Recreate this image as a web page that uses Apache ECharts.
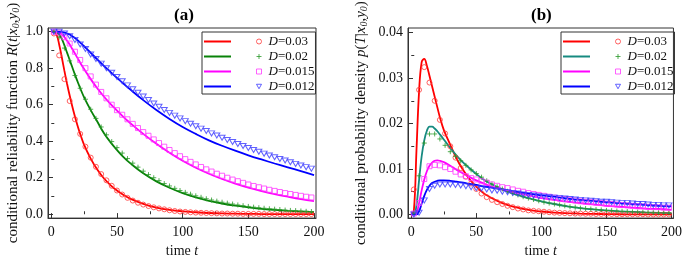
<!DOCTYPE html>
<html>
<head>
<meta charset="utf-8">
<script src="https://cdn.jsdelivr.net/npm/echarts@6/dist/echarts.min.js"></script>
<style>
  html, body { margin: 0; padding: 0; background: #fff; }
  #chart { width: 685px; height: 263px; }
</style>
</head>
<body>
<div id="chart"></div>
<script>
// time grid of the theory curves (both panels)
var tLine = [0, 2, 4, 6, 8, 10, 12, 14, 16, 18, 20, 22, 25, 30, 35, 40, 45, 50, 55, 60,
  70, 80, 90, 100, 110, 120, 130, 140, 150, 160, 170, 180, 190, 200];
// time grid of the simulation markers
var tMark = [2, 6, 10, 14, 18, 22, 26, 30, 34, 38, 42, 46, 50, 54, 58, 62, 66, 70, 74, 78,
  82, 86, 90, 94, 98, 102, 106, 110, 114, 118, 122, 126, 130, 134, 138, 142, 146, 150, 154, 158,
  162, 166, 170, 174, 178, 182, 186, 190, 194, 198];

var noiseLevels = ["0.03", "0.02", "0.015", "0.012"];

// (a) reliability function, theory
var redLineA = [1, 1, 0.985, 0.93, 0.86, 0.785, 0.715, 0.65, 0.59, 0.535, 0.485, 0.44, 0.38, 0.305, 0.245, 0.197, 0.16, 0.13, 0.106, 0.086,
  0.057, 0.037, 0.024, 0.016, 0.011, 0.007, 0.0045, 0.003, 0.002, 0.0013, 0.0009, 0.0006, 0.0004, 0.0003];
var greenLineA = [1, 1, 0.997, 0.985, 0.96, 0.925, 0.885, 0.845, 0.805, 0.765, 0.727, 0.69, 0.64, 0.57, 0.508, 0.445, 0.395, 0.352, 0.313, 0.28,
  0.224, 0.18, 0.145, 0.116, 0.093, 0.074, 0.059, 0.047, 0.038, 0.03, 0.024, 0.019, 0.015, 0.012];
var pinkLineA = [1, 1, 1, 0.995, 0.985, 0.97, 0.95, 0.93, 0.905, 0.88, 0.855, 0.83, 0.795, 0.74, 0.69, 0.645, 0.605, 0.568, 0.532, 0.5,
  0.44, 0.386, 0.337, 0.293, 0.255, 0.222, 0.193, 0.168, 0.146, 0.127, 0.11, 0.096, 0.083, 0.072];
var blueLineA = [1, 1, 1, 1, 0.998, 0.995, 0.99, 0.984, 0.975, 0.965, 0.953, 0.94, 0.92, 0.884, 0.848, 0.813, 0.78, 0.747, 0.715, 0.684,
  0.625, 0.571, 0.522, 0.478, 0.44, 0.405, 0.375, 0.348, 0.323, 0.3, 0.278, 0.257, 0.236, 0.214];

// (a) reliability function, simulation
var redMarkA = [0.99, 0.87, 0.74, 0.62, 0.52, 0.44, 0.37, 0.31, 0.26, 0.22, 0.186, 0.156, 0.13, 0.108, 0.09, 0.075, 0.063, 0.053, 0.045, 0.038,
  0.032, 0.027, 0.022, 0.018, 0.015, 0.013, 0.011, 0.009, 0.008, 0.007, 0.006, 0.005, 0.004, 0.004, 0.003, 0.003, 0.002, 0.002, 0.002, 0.002,
  0.001, 0.001, 0.001, 0.001, 0.001, 0.001, 0.001, 0.001, 0.001, 0.001];
var greenMarkA = [1, 0.97, 0.91, 0.84, 0.76, 0.69, 0.63, 0.575, 0.525, 0.478, 0.435, 0.398, 0.365, 0.335, 0.305, 0.28, 0.258, 0.236, 0.217, 0.2,
  0.184, 0.168, 0.155, 0.142, 0.13, 0.12, 0.11, 0.101, 0.093, 0.085, 0.078, 0.072, 0.066, 0.061, 0.056, 0.051, 0.047, 0.043, 0.039, 0.036,
  0.033, 0.03, 0.028, 0.026, 0.023, 0.021, 0.02, 0.018, 0.016, 0.015];
var pinkMarkA = [1, 0.995, 0.97, 0.935, 0.89, 0.845, 0.8, 0.755, 0.71, 0.67, 0.635, 0.6, 0.57, 0.545, 0.52, 0.495, 0.472, 0.45, 0.43, 0.41,
  0.39, 0.37, 0.352, 0.335, 0.318, 0.302, 0.287, 0.273, 0.259, 0.246, 0.234, 0.222, 0.211, 0.2, 0.19, 0.181, 0.172, 0.163, 0.155, 0.148,
  0.141, 0.134, 0.128, 0.122, 0.116, 0.111, 0.106, 0.101, 0.096, 0.092];
var blueMarkA = [1, 1, 0.99, 0.975, 0.955, 0.93, 0.905, 0.875, 0.85, 0.825, 0.8, 0.775, 0.752, 0.728, 0.706, 0.685, 0.665, 0.645, 0.626, 0.607,
  0.589, 0.571, 0.555, 0.54, 0.525, 0.51, 0.496, 0.482, 0.469, 0.456, 0.443, 0.431, 0.419, 0.407, 0.396, 0.385, 0.374, 0.363, 0.352, 0.342,
  0.332, 0.322, 0.312, 0.303, 0.294, 0.285, 0.276, 0.267, 0.258, 0.25];

// (b) probability density, theory
var redLineB = [0, 0.0008, 0.014, 0.027, 0.0335, 0.0342, 0.0327, 0.0305, 0.0282, 0.0259, 0.0236, 0.0214, 0.0186, 0.0153, 0.0122, 0.0097, 0.0077, 0.0061, 0.0048, 0.0039,
  0.0025, 0.0016, 0.001, 0.00065, 0.00042, 0.00028, 0.00018, 0.00012, 0.00008, 0.00005, 0.00003, 0.00002, 0.00001, 0];
var greenLineB = [0, 0, 0.002, 0.0075, 0.0128, 0.0163, 0.0184, 0.0193, 0.0193, 0.0189, 0.0183, 0.0176, 0.0165, 0.0146, 0.0129, 0.0114, 0.0101, 0.0089, 0.0078, 0.0069,
  0.0055, 0.0044, 0.0036, 0.0029, 0.0023, 0.0018, 0.0014, 0.0011, 0.00088, 0.0007, 0.00056, 0.00045, 0.00037, 0.0003];
var pinkLineB = [0, 0, 0.0003, 0.0025, 0.0053, 0.0077, 0.0095, 0.0107, 0.0114, 0.0118, 0.0119, 0.0118, 0.0115, 0.0107, 0.0098, 0.009, 0.0082, 0.0075, 0.0069, 0.0063,
  0.0055, 0.0048, 0.0042, 0.0036, 0.0032, 0.0028, 0.0025, 0.0022, 0.0019, 0.0017, 0.0015, 0.0013, 0.0012, 0.001];
var blueLineB = [0, 0, 0, 0.0007, 0.0024, 0.0041, 0.0054, 0.0063, 0.0069, 0.0072, 0.0074, 0.0075, 0.0075, 0.0074, 0.0072, 0.007, 0.0067, 0.0065, 0.0062, 0.006,
  0.0055, 0.005, 0.0046, 0.0042, 0.0039, 0.0035, 0.0032, 0.003, 0.0027, 0.0025, 0.0023, 0.0021, 0.0019, 0.0018];

// (b) probability density, simulation
var redMarkB = [0.0055, 0.0274, 0.0324, 0.029, 0.025, 0.0208, 0.0178, 0.015, 0.0125, 0.0102, 0.0083, 0.0068, 0.0056, 0.0046, 0.0038, 0.0032, 0.0027, 0.0023, 0.0019, 0.0016,
  0.0013, 0.0011, 0.0009, 0.0008, 0.0007, 0.0006, 0.0005, 0.0004, 0.00035, 0.0003, 0.00025, 0.0002, 0.0002, 0.00015, 0.00015, 0.0001, 0.0001, 0.0001, 0.0001, 0.00005,
  0.00005, 0.00005, 0.00005, 0.00005, 0.00005, 0, 0, 0, 0, 0];
var greenMarkB = [0.0003, 0.0085, 0.0157, 0.0177, 0.0177, 0.0166, 0.0152, 0.0138, 0.0128, 0.0118, 0.0108, 0.0098, 0.009, 0.0082, 0.0074, 0.0067, 0.0061, 0.0056, 0.0051, 0.0047,
  0.0043, 0.0039, 0.0036, 0.0033, 0.003, 0.0027, 0.0025, 0.0023, 0.0021, 0.0019, 0.0017, 0.0016, 0.0014, 0.0013, 0.0012, 0.0011, 0.001, 0.0009, 0.00083, 0.00076,
  0.0007, 0.00064, 0.00058, 0.00053, 0.00048, 0.00044, 0.0004, 0.00037, 0.00034, 0.00031];
var pinkMarkB = [0.0002, 0.0025, 0.0078, 0.0106, 0.0109, 0.0108, 0.0104, 0.01, 0.0094, 0.0088, 0.0084, 0.008, 0.0077, 0.0073, 0.007, 0.0066, 0.0063, 0.006, 0.0058, 0.0055,
  0.0052, 0.005, 0.0047, 0.0045, 0.0043, 0.0041, 0.0039, 0.0037, 0.0035, 0.0034, 0.0032, 0.0031, 0.0029, 0.0028, 0.0027, 0.0026, 0.0025, 0.0024, 0.0023, 0.0022,
  0.0021, 0.002, 0.0019, 0.0018, 0.0018, 0.0017, 0.0016, 0.0016, 0.0015, 0.0015];
var blueMarkB = [0, 0.0004, 0.0031, 0.0056, 0.0063, 0.0066, 0.0066, 0.0066, 0.0065, 0.0064, 0.0062, 0.006, 0.0058, 0.0057, 0.0055, 0.0053, 0.0052, 0.005, 0.0049, 0.0047,
  0.0046, 0.0044, 0.0043, 0.0042, 0.004, 0.0039, 0.0038, 0.0037, 0.0036, 0.0035, 0.0034, 0.0033, 0.0032, 0.0031, 0.003, 0.0029, 0.0028, 0.0028, 0.0027, 0.0026,
  0.0025, 0.0025, 0.0024, 0.0023, 0.0023, 0.0022, 0.0021, 0.0021, 0.002, 0.002];

// tick labels
var xTicks = [0, 50, 100, 150, 200];
var xMinorTicks = [25, 75, 125, 175];
var yTicksA = [0, 0.2, 0.4, 0.6, 0.8, 1.0];
var yMinorTicksA = [0.1, 0.3, 0.5, 0.7, 0.9];
var yTicksB = [0, 0.01, 0.02, 0.03, 0.04];
var yMinorTicksB = [0.005, 0.015, 0.025, 0.035];

var FONT = "'Liberation Serif', 'Times New Roman', serif";
var lineColorsA = ["#ff0000", "#088208", "#ff00ff", "#0000ff"];
var lineColorsB = ["#ff0000", "#168a80", "#ff00ff", "#0000ff"];
var markColors = ["#ff3a3a", "#2a9a2a", "#ff3aff", "#3a3aff"];
var markSymbols = ["circle", "path://M5,0 L5,10 M0,5 L10,5", "rect", "path://M0,0 L10,0 L5,9 Z"];
var markSizes = [5, 5, 5, [6, 5]];

function zip(xs, ys) {
  return xs.map(function (x, i) { return [x, ys[i]]; });
}

var chart = echarts.init(document.getElementById("chart"), null, { renderer: "canvas" });

function makeAxes(gridIndex, min, max, ticks, minorTicks, fmt, isX, name, nameGap) {
  var nameSize = isX ? 14 : 15;
  var major = {
    type: "value",
    gridIndex: gridIndex,
    min: min,
    max: max,
    position: isX ? "bottom" : "left",
    splitLine: { show: false },
    axisLine: { show: true, onZero: false, lineStyle: { color: "#333", width: 1 } },
    axisTick: { show: true, inside: true, length: 5, customValues: ticks, lineStyle: { color: "#333" } },
    axisLabel: {
      show: true, customValues: ticks, margin: isX ? 7 : 5,
      fontFamily: FONT, fontSize: 14, color: "#111",
      formatter: fmt
    },
    name: name,
    nameLocation: "middle",
    nameGap: nameGap,
    nameTextStyle: {
      fontFamily: FONT, fontSize: nameSize, color: "#111",
      rich: {
        i: { fontFamily: FONT, fontSize: nameSize, fontStyle: "italic", color: "#111" },
        s: { fontFamily: FONT, fontSize: 10, fontStyle: "italic", color: "#111", verticalAlign: "bottom", padding: [6, 0, 0, 0] }
      }
    }
  };
  var minor = {
    type: "value",
    gridIndex: gridIndex,
    min: min,
    max: max,
    position: isX ? "bottom" : "left",
    splitLine: { show: false },
    axisLine: { show: false },
    axisLabel: { show: false },
    axisTick: { show: true, inside: true, length: 3, customValues: minorTicks, lineStyle: { color: "#333" } }
  };
  return [major, minor];
}

var xA = makeAxes(0, -2.5, 201.5, xTicks, xMinorTicks, function (v) { return v; }, true, "time {i|t}", 20);
var xB = makeAxes(1, -2.5, 201.5, xTicks, xMinorTicks, function (v) { return v; }, true, "time {i|t}", 20);
var yA = makeAxes(0, -0.021, 1.02, yTicksA, yMinorTicksA, function (v) { return v.toFixed(1); }, false,
  "conditional reliability function {i|R}({i|t}|{i|x}{s|0},{i|y}{s|0})", 27);
var yB = makeAxes(1, -0.0008, 0.041, yTicksB, yMinorTicksB, function (v) { return v.toFixed(2); }, false,
  "conditional probability density {i|p}({i|T}|{i|x}{s|0},{i|y}{s|0})", 39);

var linesA = [redLineA, greenLineA, pinkLineA, blueLineA];
var marksA = [redMarkA, greenMarkA, pinkMarkA, blueMarkA];
var linesB = [redLineB, greenLineB, pinkLineB, blueLineB];
var marksB = [redMarkB, greenMarkB, pinkMarkB, blueMarkB];

var series = [];
function addPanel(tag, xIdx, yIdx, lines, marks, colors) {
  lines.forEach(function (vals, k) {
    series.push({
      name: tag + "-line-" + noiseLevels[k],
      type: "line",
      xAxisIndex: xIdx, yAxisIndex: yIdx,
      data: zip(tLine, vals),
      showSymbol: false, symbol: "none",
      smooth: 0.4,
      itemStyle: { color: colors[k] },
      lineStyle: { color: colors[k], width: 1.8 },
      z: 2
    });
  });
  marks.forEach(function (vals, k) {
    series.push({
      name: tag + "-mark-" + noiseLevels[k],
      type: "scatter",
      xAxisIndex: xIdx, yAxisIndex: yIdx,
      data: zip(tMark, vals),
      symbol: markSymbols[k],
      symbolSize: markSizes[k],
      itemStyle: { color: "rgba(0,0,0,0)", borderColor: markColors[k], borderWidth: 1 },
      z: 3
    });
  });
}
addPanel("a", 0, 0, linesA, marksA, lineColorsA);
addPanel("b", 2, 2, linesB, marksB, lineColorsB);

// legend: one component for the line keys, one (framed) for the marker keys and labels
function legendPair(tag, left) {
  var textStyle = {
    fontFamily: FONT, fontSize: 13, color: "#111", lineHeight: 15,
    rich: { i: { fontFamily: FONT, fontSize: 13, fontStyle: "italic", color: "#111", lineHeight: 15 } }
  };
  return [
    {
      data: noiseLevels.map(function (d) { return tag + "-line-" + d; }),
      orient: "vertical", left: left + 2, top: 34, padding: 0,
      itemGap: 0, itemWidth: 27, itemHeight: 2, icon: "rect",
      selectedMode: false,
      formatter: function () { return " "; },
      textStyle: textStyle
    },
    {
      data: noiseLevels.map(function (d) {
        return { name: tag + "-mark-" + d, itemStyle: { borderWidth: 1 } };
      }),
      orient: "vertical", left: left, top: 32, padding: [2, 1, 0, 54],
      borderColor: "#333", borderWidth: 1,
      itemGap: 0, itemWidth: 5, itemHeight: 5,
      symbolKeepAspect: true,
      selectedMode: false,
      formatter: function (name) { return "{i|D}=" + name.split("-")[2]; },
      textStyle: Object.assign({}, textStyle, { padding: [0, 0, 0, 2] })
    }
  ];
}

var option = {
  animation: false,
  backgroundColor: "#fff",
  title: [
    { text: "(a)", left: 169, top: 2, textStyle: { fontFamily: FONT, fontWeight: "bold", fontSize: 17, color: "#000" } },
    { text: "(b)", left: 526, top: 2, textStyle: { fontFamily: FONT, fontWeight: "bold", fontSize: 17, color: "#000" } }
  ],
  grid: [
    { left: 48, top: 28, width: 268, height: 196, show: true, borderColor: "#333", borderWidth: 1, containLabel: false },
    { left: 408, top: 28, width: 267, height: 196, show: true, borderColor: "#333", borderWidth: 1, containLabel: false }
  ],
  legend: legendPair("a", 202).concat(legendPair("b", 561)),
  xAxis: [xA[0], xA[1], xB[0], xB[1]],
  yAxis: [yA[0], yA[1], yB[0], yB[1]],
  series: series
};

chart.setOption(option);
</script>
</body>
</html>
